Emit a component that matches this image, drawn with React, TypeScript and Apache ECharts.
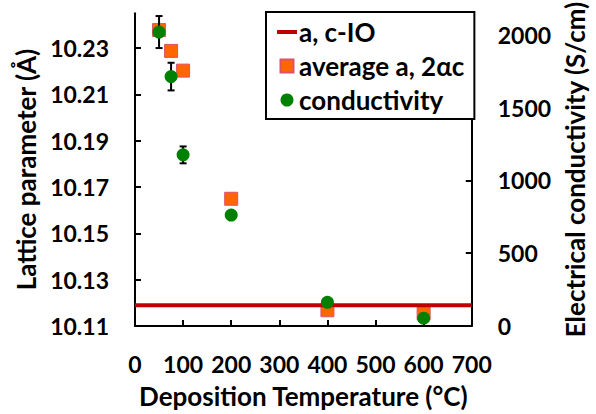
import { useEffect, useRef } from 'react'
import * as echarts from 'echarts'

// deposition temperature (°C)
const temps = [50, 75, 100, 200, 400, 600]
// average a, 2αc lattice parameter (Å)
const latticeAvg = [10.2377, 10.2287, 10.2202, 10.1649, 10.1168, 10.1155]
// electrical conductivity (S/cm) and its error
const conductivity = [2020, 1714, 1176, 762, 163, 54]
const conductivityErr = [110, 95, 58, 25, 0, 0]
// lattice parameter of c-IO reference (Å)
const cIOLattice = 10.1189
const cIOSpan = [0, 700]

const leftTicks = [10.11, 10.13, 10.15, 10.17, 10.19, 10.21, 10.23]
const rightTicks = [0, 500, 1000, 1500, 2000]

const FONT = 'Lato, "Open Sans", sans-serif'

// legend icons: zero-length segments at the corners keep the shape's box at 20x13
const LINE_ICON = 'path://M0,0L0,0M20,13L20,13M0,4.5H20V8.5H0Z'
const SQUARE_ICON = 'path://M0,0L0,0M20,13L20,13M3.5,0H16.5V13H3.5Z'

const App = () => {
  const chartRef = useRef<HTMLDivElement>(null)

  useEffect(() => {
    if (!chartRef.current) return
    const chart = echarts.init(chartRef.current, null, { renderer: 'svg' })

    const axisText = { color: '#000', fontFamily: FONT, fontWeight: 'bold' as const, fontSize: 23 }
    const titleText = { ...axisText, fontSize: 26 }
    const axisLine = { show: true, lineStyle: { color: '#000', width: 2 } }
    const axisTick = { show: true, inside: true, length: 6, lineStyle: { color: '#000', width: 2 } }

    const option = {
      animation: false,
      grid: { left: 135, right: 124, top: 13, bottom: 85, containLabel: false },
      legend: {
        orient: 'vertical',
        left: 266,
        top: 12,
        padding: [7, 10, 6, 10],
        borderColor: '#000',
        borderWidth: 2,
        backgroundColor: '#fff',
        itemWidth: 20,
        itemHeight: 13,
        itemGap: 8,
        textStyle: { ...titleText, padding: [0, 0, 0, -3] },
        data: [
          { name: 'a, c-IO', icon: LINE_ICON },
          { name: 'average a, 2αc', icon: SQUARE_ICON },
          { name: 'conductivity', icon: 'circle' }
        ]
      },
      xAxis: {
        type: 'value',
        min: 0,
        max: 700,
        interval: 100,
        name: 'Deposition Temperature (°C)',
        nameLocation: 'middle',
        nameGap: 57,
        nameTextStyle: titleText,
        axisLine,
        axisTick,
        splitLine: { show: false },
        axisLabel: { ...axisText, margin: 26 }
      },
      yAxis: [
        {
          type: 'value',
          min: 10.11,
          max: 10.245,
          name: 'Lattice parameter (Å)',
          nameLocation: 'middle',
          nameGap: 93,
          nameTextStyle: titleText,
          axisLine,
          axisTick: { ...axisTick, customValues: leftTicks },
          splitLine: { show: false },
          axisLabel: {
            ...axisText,
            margin: 26,
            customValues: leftTicks,
            formatter: (v: number) => v.toFixed(2)
          }
        },
        {
          type: 'value',
          min: 0,
          max: 2150,
          position: 'right',
          name: 'Electrical conductivity (S/cm)',
          nameLocation: 'middle',
          nameGap: 85,
          nameTextStyle: titleText,
          axisLine,
          axisTick: { ...axisTick, customValues: rightTicks },
          splitLine: { show: false },
          axisLabel: {
            ...axisText,
            margin: 26,
            customValues: rightTicks,
            formatter: (v: number) => String(v)
          }
        }
      ],
      series: [
        {
          name: 'average a, 2αc',
          type: 'scatter',
          yAxisIndex: 0,
          symbol: 'rect',
          symbolSize: 13,
          z: 2,
          itemStyle: { color: '#ff6600', borderColor: '#d9546a', borderWidth: 1, opacity: 1 },
          data: temps.map((t, i) => [t, latticeAvg[i]])
        },
        {
          name: 'a, c-IO',
          type: 'line',
          yAxisIndex: 0,
          symbol: 'none',
          z: 3,
          lineStyle: { color: '#c00000', width: 4 },
          itemStyle: { color: '#c00000' },
          data: cIOSpan.map((t) => [t, cIOLattice])
        },
        {
          name: 'err',
          type: 'custom',
          yAxisIndex: 1,
          z: 4,
          renderItem: (_params: any, api: any) => {
            const x = api.value(0)
            const top = api.coord([x, api.value(2)])
            const bot = api.coord([x, api.value(1)])
            const style = { stroke: '#000', lineWidth: 2 }
            return {
              type: 'group',
              children: [
                { type: 'line', shape: { x1: top[0], y1: top[1], x2: bot[0], y2: bot[1] }, style },
                { type: 'line', shape: { x1: top[0] - 3.5, y1: top[1], x2: top[0] + 3.5, y2: top[1] }, style },
                { type: 'line', shape: { x1: bot[0] - 3.5, y1: bot[1], x2: bot[0] + 3.5, y2: bot[1] }, style }
              ]
            }
          },
          data: temps.map((t, i) => [t, conductivity[i] - conductivityErr[i], conductivity[i] + conductivityErr[i]])
        },
        {
          name: 'conductivity',
          type: 'scatter',
          yAxisIndex: 1,
          symbol: 'circle',
          symbolSize: 13,
          z: 5,
          itemStyle: { color: '#008000', opacity: 1 },
          data: temps.map((t, i) => [t, conductivity[i]])
        }
      ]
    }

    chart.setOption(option)
    return () => chart.dispose()
  }, [])

  return (
    <div
      ref={chartRef}
      style={{ position: 'fixed', left: 0, top: 0, width: 596, height: 414, background: '#fff' }}
    />
  )
}

export default App
